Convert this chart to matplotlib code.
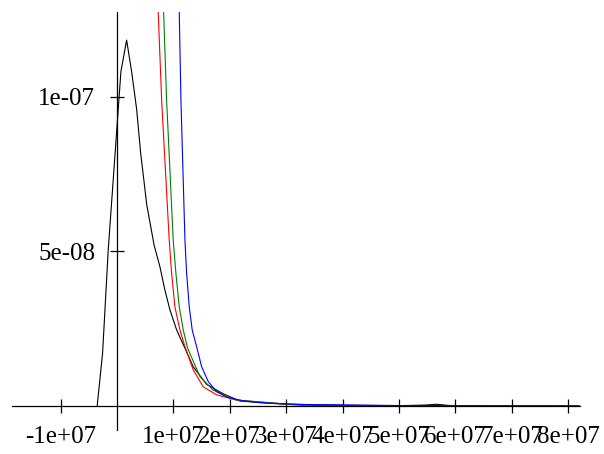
import matplotlib
matplotlib.use("Agg")
import matplotlib.pyplot as plt
import numpy as np

# curvas (x en unidades de 1e7, y en unidades de 1e-8)
X_BLACK = [-0.35, -0.254, -0.154, 0.071, 0.172, 0.261, 0.35, 0.42, 0.53, 0.66,
           0.762, 0.851, 0.940, 1.059, 1.206, 1.353, 1.590, 1.879, 2.181, 2.713,
           3.245, 4.13, 5.0, 5.46, 5.67, 5.9, 6.79, 8.2]
Y_BLACK = [0.0, 1.71, 5.05, 10.82, 11.84, 10.82, 9.6, 8.2, 6.5, 5.2,
           4.51, 3.75, 3.11, 2.46, 1.87, 1.27, 0.70, 0.40, 0.16, 0.087,
           0.03, 0.016, 0.01, 0.03, 0.055, 0.016, 0.006, 0.0]

X_RED = [0.60, 0.68, 0.732, 0.793, 0.927, 0.970, 1.028, 1.117, 1.206, 1.353,
         1.530, 1.768, 2.122, 2.535, 3.0, 4.0, 5.0, 6.0, 8.2]
Y_RED = [25.0, 16.0, 12.75, 9.90, 5.37, 4.29, 3.21, 2.46, 1.92, 1.17,
         0.62, 0.36, 0.19, 0.13, 0.06, 0.02, 0.01, 0.005, 0.0]

X_GREEN = [0.70, 0.78, 0.828, 0.881, 0.998, 1.046, 1.105, 1.176, 1.254, 1.472,
           1.702, 2.122, 2.535, 3.0, 4.0, 6.0, 8.2]
Y_GREEN = [25.0, 16.0, 12.75, 9.90, 5.37, 4.29, 3.21, 2.46, 1.87, 0.95,
           0.52, 0.19, 0.13, 0.06, 0.02, 0.005, 0.0]

X_BLUE = [1.03, 1.08, 1.105, 1.135, 1.206, 1.236, 1.282, 1.335, 1.413, 1.502,
          1.619, 1.768, 1.973, 2.239, 2.535, 3.24, 5.0, 8.2]
Y_BLUE = [25.0, 16.0, 12.75, 9.90, 5.37, 4.29, 3.21, 2.46, 1.92, 1.27,
          0.79, 0.46, 0.27, 0.17, 0.107, 0.05, 0.015, 0.0]

XTICKS = [-1e7, 1e7, 2e7, 3e7, 4e7, 5e7, 6e7, 7e7, 8e7]
XLABELS = ["-1e+07", "1e+07", "2e+07", "3e+07", "4e+07", "5e+07", "6e+07", "7e+07", "8e+07"]
YTICKS = [5e-8, 1e-7]
YLABELS = ["5e-08", "1e-07"]

plt.rcParams["font.family"] = ["Liberation Serif", "DejaVu Serif"]

fig = plt.figure(figsize=(6.04, 4.54), dpi=100)
ax = fig.add_axes([12 / 604, (454 - 430) / 454, 568 / 604, (430 - 12) / 454])

lw = 0.8
for xs, ys, c in [(X_BLACK, Y_BLACK, "black"), (X_RED, Y_RED, "#ff0000"),
                  (X_GREEN, Y_GREEN, "#008000"), (X_BLUE, Y_BLUE, "#0000ff")]:
    ax.plot(np.array(xs) * 1e7, np.array(ys) * 1e-8, color=c, lw=lw)

ax.set_xlim(-1.86e7, 8.21e7)
ax.set_ylim(-7.77e-9, 1.275e-7)

ax.spines["left"].set_position(("data", 0))
ax.spines["bottom"].set_position(("data", 0))
ax.spines["top"].set_visible(False)
ax.spines["right"].set_visible(False)
for s in ("left", "bottom"):
    ax.spines[s].set_linewidth(0.9)

ax.set_xticks(XTICKS)
ax.set_xticklabels(XLABELS)
ax.set_yticks(YTICKS)
ax.set_yticklabels(YLABELS)
ax.tick_params(direction="inout", length=9.5, width=0.9, labelsize=18)
ax.tick_params(axis="x", pad=9.5)
ax.tick_params(axis="y", pad=11)
ax.patch.set_visible(False)

fig.savefig("out.png", dpi=100)
